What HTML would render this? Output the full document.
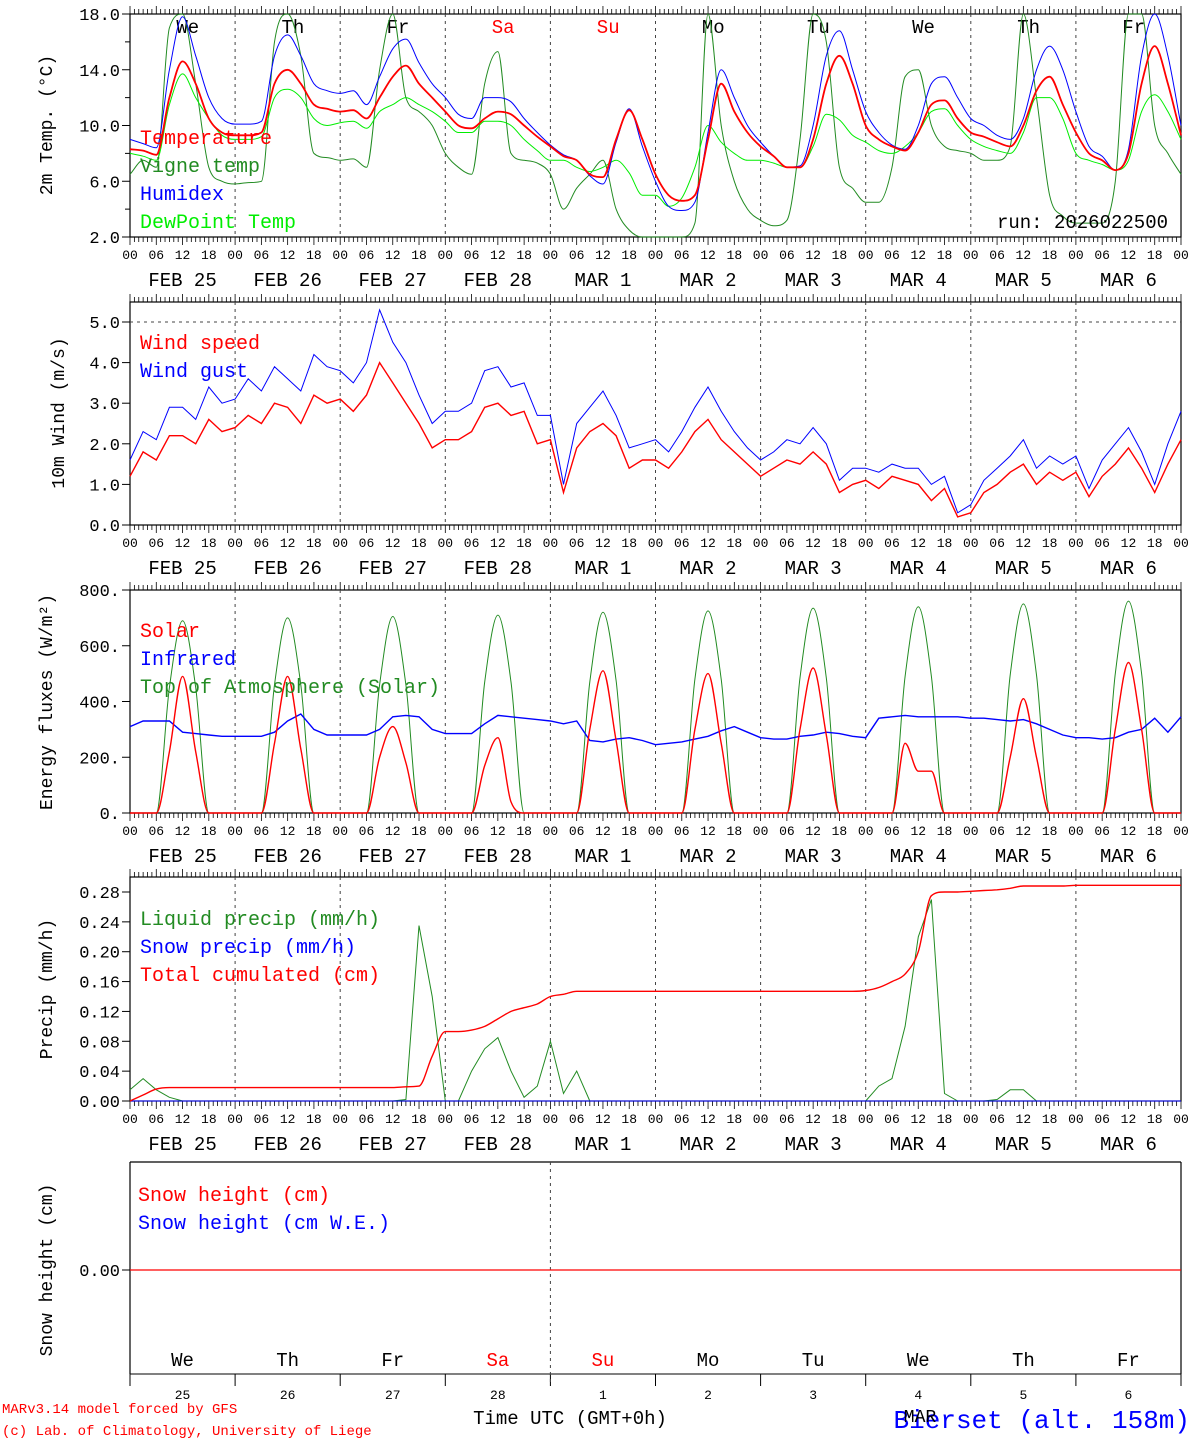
<!DOCTYPE html>
<html><head><meta charset="utf-8"><style>
body{margin:0;background:#fff;width:1194px;height:1440px;overflow:hidden}
svg{display:block}
text{font-family:"Liberation Mono","DejaVu Sans Mono",monospace}
</style></head><body>
<svg id="c" width="1194" height="1440" viewBox="0 0 1194 1440" xmlns="http://www.w3.org/2000/svg"></svg>
<script>
// ---- data (3-hourly from FEB 25 00 UTC, 81 points) ----
const dayAbbr=["We","Th","Fr","Sa","Su","Mo","Tu","We","Th","Fr"];
const dateLabels=["FEB  25","FEB  26","FEB  27","FEB  28","MAR   1","MAR   2","MAR   3","MAR   4","MAR   5","MAR   6"];
const dayNums=["25","26","27","28","1","2","3","4","5","6"];
const hourTicks=["00","06","12","18"];
const tempTicks=["2.0","6.0","10.0","14.0","18.0"];
const windTicks=["0.0","1.0","2.0","3.0","4.0","5.0"];
const fluxTicks=["0.","200.","400.","600.","800."];
const precTicks=["0.00","0.04","0.08","0.12","0.16","0.20","0.24","0.28"];
const temperature=[8.3,8.2,7.9,12,14.6,13,10.5,9.5, 9.3,9.3,9.5,13,14,13,11.5,11.2, 11,11.1,10.5,12,13.5,14.3,13,12, 11,10,9.8,10.5,11,10.8,10,9.2, 8.5,7.8,7.5,6.5,6.3,9,11.1,9, 6.5,5,4.6,5,9,13,11,9.5, 8.5,7.8,7,7,9,13,15,13, 10,9,8.5,8.2,9.5,11.5,11.8,10.5, 9.5,9.2,8.8,8.5,10,12.5,13.5,11.5, 9.5,8,7.5,6.8,8,13,15.7,13, 9.3];
const humidex=[9,8.7,8.4,14,17.8,15,12,10.5, 10.1,10.1,10.3,15,16.5,15,13,12.5, 12.3,12.5,11.5,13.5,15.5,16.2,14.5,13, 12,10.8,10.5,12,12,11.7,10.5,9.5, 8.6,7.9,7.5,6.4,5.8,8.8,11.2,8.5, 6,4.2,3.9,4.5,9.5,14,12,10, 8.8,7.8,7.0,7.1,10,15,16.8,14, 11,9.5,8.6,8.3,10,13,13.5,12, 10.5,10,9.3,9,10.5,14,15.7,14, 11,8.5,7.8,6.8,8.3,15,18,15, 10];
const dewpoint=[8,7.8,7.5,11.5,13.7,12,10.5,9.3, 9.0,9.0,9.2,12,12.6,12,10.5,10.0, 10.2,10.3,9.8,11,11.5,12,11.5,11, 10.3,9.5,9.5,10.3,10.3,10,9,8.2, 7.5,7.5,7.0,6.7,7.0,7.5,6.6,5, 5,4.2,4.8,7,10,8.8,8,7.5, 7.5,7.3,7,7,8.5,10.8,10.4,9.3, 8.8,8.2,8.0,8.5,9.5,11,11.2,10, 9,8.5,8.2,8,9.5,12,12,10.5, 8,7.5,7.2,6.8,7.5,11,12.2,11, 9];
const vigne=[6.5,7.5,7,17,18,13,7,6, 5.8,5.9,6,16,18,15,8,7.7, 7.5,7.6,7,14,18,12,11,10, 8,7,6.5,13,15.3,8,7.5,7.3, 6.5,4,5.5,6.5,7.5,4,2.5,1.5, 1.5,1.5,1.5,3,18,10,6,4, 3.2,2.8,3.2,9,18,16,7,5.5, 4.5,4.5,7,13.5,14,10,8.5,8.2, 8,7.5,7.5,8.5,18,12,5,3.5, 3,3,3,6,18,18,10,8, 6.5];
const windSpeed=[1.2,1.8,1.6,2.2,2.2,2.0,2.6,2.3, 2.4,2.7,2.5,3.0,2.9,2.5,3.2,3.0, 3.1,2.8,3.2,4.0,3.5,3.0,2.5,1.9, 2.1,2.1,2.3,2.9,3.0,2.7,2.8,2.0, 2.1,0.8,1.9,2.3,2.5,2.2,1.4,1.6, 1.6,1.4,1.8,2.3,2.6,2.1,1.8,1.5, 1.2,1.4,1.6,1.5,1.8,1.5,0.8,1.0, 1.1,0.9,1.2,1.1,1.0,0.6,0.9,0.2, 0.3,0.8,1.0,1.3,1.5,1.0,1.3,1.1, 1.3,0.7,1.2,1.5,1.9,1.4,0.8,1.5, 2.1];
const windGust=[1.6,2.3,2.1,2.9,2.9,2.6,3.4,3.0, 3.1,3.6,3.3,3.9,3.6,3.3,4.2,3.9, 3.8,3.5,4.0,5.3,4.5,4.0,3.2,2.5, 2.8,2.8,3.0,3.8,3.9,3.4,3.5,2.7, 2.7,1.0,2.5,2.9,3.3,2.7,1.9,2.0, 2.1,1.8,2.3,2.9,3.4,2.8,2.3,1.9, 1.6,1.8,2.1,2.0,2.4,2.0,1.1,1.4, 1.4,1.3,1.5,1.4,1.4,1.0,1.2,0.3, 0.5,1.1,1.4,1.7,2.1,1.4,1.7,1.5, 1.7,0.9,1.6,2.0,2.4,1.8,1.0,2.0, 2.8];
const solar=[0,0,0,220,490,220,0,0, 0,0,0,250,490,230,0,0, 0,0,0,200,310,180,0,0, 0,0,0,170,270,40,0,0, 0,0,0,300,510,260,0,0, 0,0,0,300,500,250,0,0, 0,0,0,300,520,280,0,0, 0,0,0,250,150,150,0,0, 0,0,0,200,410,200,0,0, 0,0,0,300,540,300,0,0, 0];
const toa=[0,0,0,450,690,450,0,0, 0,0,0,460,700,460,0,0, 0,0,0,460,705,460,0,0, 0,0,0,470,710,470,0,0, 0,0,0,470,720,475,0,0, 0,0,0,480,725,480,0,0, 0,0,0,485,735,485,0,0, 0,0,0,490,740,490,0,0, 0,0,0,495,750,495,0,0, 0,0,0,500,760,500,0,0, 0];
const infrared=[310,330,330,330,290,285,280,275, 275,275,275,290,330,355,300,280, 280,280,280,300,345,350,345,300, 285,285,285,320,350,345,340,335, 330,320,330,260,255,265,270,260, 245,250,255,265,275,295,310,290, 270,265,265,275,280,290,285,275, 270,340,345,350,345,345,345,345, 340,340,335,330,335,320,300,280, 270,270,265,270,290,300,340,290, 345];
const liquid=[0.015,0.03,0.015,0.005,0,0,0,0, 0,0,0,0,0,0,0,0, 0,0,0,0,0,0.002,0.235,0.14, 0,0,0.04,0.07,0.085,0.04,0.005,0.02, 0.08,0.01,0.04,0,0,0,0,0, 0,0,0,0,0,0,0,0, 0,0,0,0,0,0,0,0, 0,0.02,0.03,0.1,0.22,0.27,0.01,0, 0,0,0.002,0.015,0.015,0,0,0, 0,0,0,0,0,0,0,0, 0];
const snowPrecip=new Array(81).fill(0);
const cumulated=[0,0.008,0.016,0.018,0.018,0.018,0.018,0.018, 0.018,0.018,0.018,0.018,0.018,0.018,0.018,0.018, 0.018,0.018,0.018,0.018,0.018,0.019,0.02,0.06, 0.093,0.093,0.095,0.1,0.11,0.12,0.125,0.13, 0.14,0.143,0.147,0.147,0.147,0.147,0.147,0.147, 0.147,0.147,0.147,0.147,0.147,0.147,0.147,0.147, 0.147,0.147,0.147,0.147,0.147,0.147,0.147,0.147, 0.148,0.152,0.16,0.17,0.2,0.275,0.28,0.28, 0.281,0.282,0.283,0.285,0.288,0.288,0.288,0.288, 0.289,0.289,0.289,0.289,0.289,0.289,0.289,0.289, 0.289];
const snowHeight=new Array(81).fill(0);

// ---- drawing ----
const svg=document.getElementById('c');
const NS="http://www.w3.org/2000/svg";
const L=130,R=1181;
function X(i){return L+(R-L)*(i*3)/240;}
function el(tag,attrs,parent){const e=document.createElementNS(NS,tag);for(const k in attrs)e.setAttribute(k,attrs[k]);(parent||svg).appendChild(e);return e;}
function txt(s,x,y,size,fill,anchor,parent){const t=el('text',{x:x,y:y,'font-size':size,fill:fill||'#000','text-anchor':anchor||'start'},parent);t.textContent=s;return t;}
function makeY(vmin,vmax,ymin,ymax){return v=>ymin+(v-vmin)/(vmax-vmin)*(ymax-ymin);}
// monotone cubic path (no overshoot)
function monoPath(xs,ys){
  const n=xs.length,d=[],m=new Array(n);
  for(let i=0;i<n-1;i++)d.push((ys[i+1]-ys[i])/(xs[i+1]-xs[i]));
  m[0]=d[0];m[n-1]=d[n-2];
  for(let i=1;i<n-1;i++){m[i]=(d[i-1]*d[i]<=0)?0:(d[i-1]+d[i])/2;}
  for(let i=0;i<n-1;i++){if(d[i]===0){m[i]=0;m[i+1]=0;continue;}const a=m[i]/d[i],b=m[i+1]/d[i],s=a*a+b*b;if(s>9){const t=3/Math.sqrt(s);m[i]=t*a*d[i];m[i+1]=t*b*d[i];}}
  let p='M'+xs[0].toFixed(1)+','+ys[0].toFixed(1);
  for(let i=0;i<n-1;i++){const h=(xs[i+1]-xs[i])/3;p+=' C'+(xs[i]+h).toFixed(1)+','+(ys[i]+m[i]*h).toFixed(1)+' '+(xs[i+1]-h).toFixed(1)+','+(ys[i+1]-m[i+1]*h).toFixed(1)+' '+xs[i+1].toFixed(1)+','+ys[i+1].toFixed(1);}
  return p;
}
function series(arr,Y,color,name,top,bot,w,smooth){
  const xs=arr.map((v,i)=>X(i));
  const ys=arr.map(v=>Math.max(top,Math.min(bot,Y(v))));
  let p;
  if(smooth){p=el('path',{d:monoPath(xs,ys),fill:'none',stroke:color,'stroke-width':w||1.2});}
  else{p=el('polyline',{points:xs.map((x,i)=>x.toFixed(1)+','+ys[i].toFixed(1)).join(' '),fill:'none',stroke:color,'stroke-width':w||1.2});}
  
  
}
function frame(name,top,bot,labelsY,datesY,box){
  const g=el('g',{});
  
  
  if(box) el('rect',{x:L,y:top,width:R-L,height:bot-top,fill:'none',stroke:'#000','stroke-width':1.2},g);
  for(let h=0;h<=240;h++){
    const x=L+(R-L)*h/240;
    const len=(h%6===0)?8:5;
    el('line',{x1:x,y1:top-len,x2:x,y2:top,stroke:'#000','stroke-width':0.8},g);
    el('line',{x1:x,y1:bot,x2:x,y2:bot+len,stroke:'#000','stroke-width':0.8},g);
    if(h%6===0 && labelsY) txt(hourTicks[(h/6)%4],x,labelsY,13,'#000','middle',g);
  }
  for(let d=1;d<10;d++){const x=L+(R-L)*d/10;el('line',{x1:x,y1:top,x2:x,y2:bot,stroke:'#444','stroke-dasharray':'3,4','stroke-width':1},g);}
  if(datesY) for(let d=0;d<10;d++) txt(dateLabels[d],L+(R-L)*(d+0.5)/10,datesY,19,'#000','middle',g).setAttribute('xml:space','preserve');
  return g;
}
function yTicks(g,ticks,Y,vals){
  ticks.forEach((s,i)=>{const y=Y(vals[i]);el('line',{x1:L-8,y1:y,x2:L,y2:y,stroke:'#000'},g);txt(s,L-10,y+6,17,'#000','end',g);});
}
function ytitle(s,x,y){const t=txt(s,x,y,18,'#000','middle');t.setAttribute('transform','rotate(-90 '+x+' '+y+')');return t;}
function legend(items,x,y0,dy){items.forEach((it,i)=>{const t=txt(it[0],x,y0+i*dy,20,it[1]);t.setAttribute('xml:space','preserve');});}

// Panel 1
let g=frame('temperature-panel',14,237,259,286,true);
let Y=makeY(2,18,237,14);
yTicks(g,tempTicks,Y,[2,6,10,14,18]);
for(let v=4;v<18;v+=4){el('line',{x1:L-5,y1:Y(v),x2:L,y2:Y(v),stroke:'#000'},g);}
ytitle('2m Temp. (\u00B0C)',52,125);
dayAbbr.forEach((s,d)=>{txt(s,L+(R-L)*(d+0.55)/10,33,19,(d===3||d===4)?'#f00':'#000','middle');});
series(vigne,Y,'#228b22','vigne-temp-line',14,237,1,true);
series(dewpoint,Y,'#00ee00','dewpoint-line',14,237,1,true);
series(humidex,Y,'#0000ff','humidex-line',14,237,1,true);
series(temperature,Y,'#ff0000','temperature-line',14,237,1.8,true);
legend([['Temperature','#f00'],['Vigne temp','#228b22'],['Humidex','#00f'],['DewPoint Temp','#0e0']],140,144,28);
txt('run: 2026022500',1168,228,19,'#000','end');

// Panel 2
g=frame('wind-panel',302,525,547,574,true);
Y=makeY(0,5,525,322);
yTicks(g,windTicks,Y,[0,1,2,3,4,5]);
el('line',{x1:L,y1:Y(5),x2:R,y2:Y(5),stroke:'#444','stroke-dasharray':'3,4'},g);
ytitle('10m Wind (m/s)',64,413);
series(windGust,Y,'#0000ff','wind-gust-line',302,525,1);
series(windSpeed,Y,'#ff0000','wind-speed-line',302,525,1.4);
legend([['Wind speed','#f00'],['Wind gust','#00f']],140,349,28);

// Panel 3
g=frame('energy-panel',590,813,835,862,true);
Y=makeY(0,800,813,590);
yTicks(g,fluxTicks,Y,[0,200,400,600,800]);
ytitle('Energy fluxes (W/m\u00B2)',52,702);
series(toa,Y,'#228b22','toa-solar-line',590,813,1,true);
series(infrared,Y,'#0000ff','infrared-line',590,813,1.4);
series(solar,Y,'#ff0000','solar-line',590,813,1.4,true);
legend([['Solar','#f00'],['Infrared','#00f'],['Top of Atmosphere (Solar)','#228b22']],140,637,28);

// Panel 4
g=frame('precip-panel',877,1101,1123,1150,true);
Y=makeY(0,0.28,1101,892);
yTicks(g,precTicks,Y,[0,0.04,0.08,0.12,0.16,0.20,0.24,0.28]);
ytitle('Precip (mm/h)',52,989);
series(liquid,Y,'#228b22','liquid-precip-line',877,1101,1);
series(snowPrecip,Y,'#0000ff','snow-precip-line',877,1101,1);
series(cumulated,Y,'#ff0000','cumulated-precip-line',877,1101,1.4,true);
legend([['Liquid precip (mm/h)','#228b22'],['Snow precip (mm/h)','#00f'],['Total cumulated (cm)','#f00']],140,925,28);

// Panel 5
g=el('g',{});


el('line',{x1:L,y1:1162,x2:R,y2:1162,stroke:'#000','stroke-width':1.2},g);
el('line',{x1:L,y1:1162,x2:L,y2:1374,stroke:'#000','stroke-width':1.2},g);
el('line',{x1:R,y1:1162,x2:R,y2:1374,stroke:'#000','stroke-width':1.2},g);
el('line',{x1:L,y1:1374,x2:R,y2:1374,stroke:'#000','stroke-width':1},g);
for(let d=0;d<=10;d++){const x=L+(R-L)*d/10;el('line',{x1:x,y1:1374,x2:x,y2:1386,stroke:'#000'},g);}
el('line',{x1:L+(R-L)*0.4,y1:1162,x2:L+(R-L)*0.4,y2:1386,stroke:'#444','stroke-dasharray':'3,4'},g);
el('line',{x1:L-8,y1:1270,x2:L,y2:1270,stroke:'#000'},g);
txt('0.00',L-10,1276,17,'#000','end',g);
Y=makeY(0,1,1270,1170);
series(snowHeight,Y,'#ff0000','snow-height-line',1162,1374,1.2);
ytitle('Snow height (cm)',52,1270);
legend([['Snow height (cm)','#f00'],['Snow height (cm W.E.)','#00f']],138,1201,28);
dayAbbr.forEach((s,d)=>{txt(s,L+(R-L)*(d+0.5)/10,1366,19,(d===3||d===4)?'#f00':'#000','middle');});
dayNums.forEach((s,d)=>{txt(s,L+(R-L)*(d+0.5)/10,1399,13,'#000','middle');});
let t=txt('Time UTC (GMT+0h)',570,1424,19,'#000','middle');
txt('MARv3.14 model forced by GFS',2,1413,14,'#f00');
txt('(c) Lab. of Climatology, University of Liege',2,1435,14,'#f00');
txt('Bierset (alt. 158m)',1190,1428,26,'#00f','end');
txt('MAR',920,1422,18,'#000','middle');
</script>
</body></html>
